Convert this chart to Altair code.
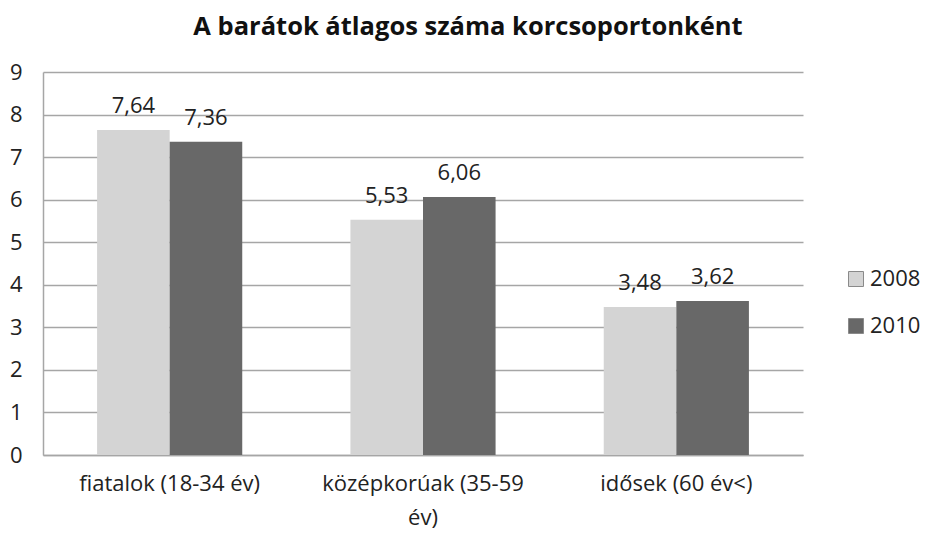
import altair as alt
import pandas as pd

categories = ["fiatalok (18-34 év)", "középkorúak (35-59\név)", "idősek (60 év<)"]
years = ["2008", "2010"]
values_2008 = [7.64, 5.53, 3.48]
values_2010 = [7.36, 6.06, 3.62]
colors = ["#d4d4d4", "#686868"]

rows = []
for c, a, b in zip(categories, values_2008, values_2010):
    rows.append({"cat": c, "year": years[0], "v": a})
    rows.append({"cat": c, "year": years[1], "v": b})
df = pd.DataFrame(rows)
df["lbl"] = df["v"].map(lambda v: f"{v:.2f}".replace(".", ","))

FONT = "Open Sans"
FS = 22
pad_inner = 0.427

x = alt.X("cat:N", sort=categories, title=None,
          scale=alt.Scale(paddingInner=pad_inner, paddingOuter=pad_inner / 2),
          axis=alt.Axis(labelExpr="split(datum.label, '\\n')", labelAngle=0,
                        labelFont=FONT, labelFontSize=FS, labelColor="#222222",
                        labelLimit=400, labelOverlap=False,
                        ticks=False, domainColor="#a6a6a6", domainWidth=1.5,
                        labelPadding=18, labelLineHeight=34))
y = alt.Y("v:Q", title=None,
          scale=alt.Scale(domain=[0, 9], nice=False),
          axis=alt.Axis(values=list(range(10)), ticks=False, labelFont=FONT,
                        labelFontSize=FS, labelColor="#222222", labelPadding=21,
                        gridColor="#a6a6a6", gridWidth=1.5, domainColor="#a6a6a6",
                        domainWidth=1.5))

base = alt.Chart(df).encode(
    x=x,
    xOffset=alt.XOffset("year:N", sort=years, scale=alt.Scale(paddingInner=0, paddingOuter=0)),
    y=y,
)

bars = base.mark_bar().encode(
    color=alt.Color("year:N", sort=years,
                    scale=alt.Scale(domain=years, range=colors),
                    legend=alt.Legend(title=None, orient="none", legendX=802, legendY=196,
                                      symbolType="square", symbolSize=225,
                                      symbolStrokeColor="#8a8a8a", symbolStrokeWidth=1,
                                      labelFont=FONT, labelFontSize=FS, labelColor="#222222",
                                      labelOffset=3, rowPadding=25, padding=0))
)

texts = base.mark_text(font=FONT, fontSize=FS, color="#222222", baseline="alphabetic",
                       dy=-17).encode(text="lbl:N")

chart = alt.layer(bars, texts).properties(
    width=760, height=383,
    padding={"left": 35, "top": 64, "right": 127, "bottom": 83},
    autosize=alt.AutoSizeParams(type="none"),
    title=alt.TitleParams("A barátok átlagos száma korcsoportonként", font=FONT,
                          fontSize=25.5, fontWeight="bold", color="#111111",
                          anchor="middle", dx=45, offset=21),
).configure_view(stroke=None).configure_axis(grid=True).configure_axisX(grid=False)

chart.save("out.html", embed_options={"renderer": "svg", "actions": False})
